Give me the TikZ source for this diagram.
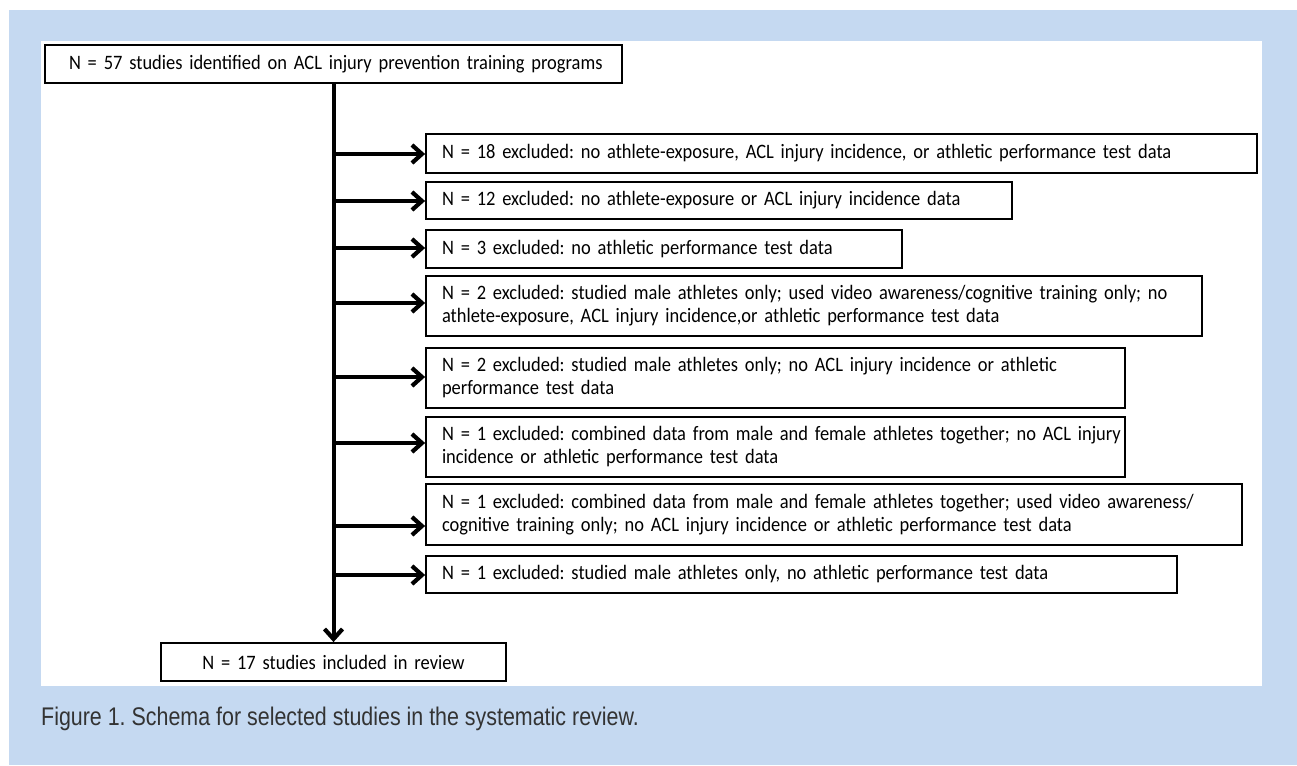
\documentclass[tikz,border=0pt]{standalone}
\usepackage{fontspec}
\setmainfont{Carlito}[FakeStretch=0.9]
\newfontfamily\capfont[FakeStretch=0.84]{Liberation Sans}
\usetikzlibrary{arrows.meta}
\definecolor{bgblue}{HTML}{C5D9F1}
\definecolor{capgray}{HTML}{333333}
\begin{document}
\frenchspacing
\begin{tikzpicture}[x=1pt,y=-1pt,
  exbox/.style={draw=black, line width=1.8pt, inner xsep=16pt, inner ysep=0pt,
    align=left, font=\fontsize{20.5}{23}\selectfont},
  conn/.style={line width=4pt, -{Straight Barb[length=10pt,width=18pt,line width=4.2pt]}}]
\useasboundingbox (0,0) rectangle (1297,765);
\fill[white] (0,0) rectangle (1297,765);
\fill[bgblue] (9,10) rectangle (1297,765);
\fill[white] (41,41) rectangle (1262,686);
% top and bottom boxes
\node[exbox, inner xsep=24pt, text width=529pt, minimum height=38pt] (top) at (333.5,64) {\mbox{N = 57 studies identified on ACL injury prevention training programs}};
\node[exbox, align=center, text width=313pt, minimum height=38pt] (bot) at (333.5,662) {N = 17 studies included in review};
% exclusion boxes
\node[exbox, text width=799pt, minimum height=39pt] (b1) at (841.5,153.5) {\mbox{N = 18 excluded: no athlete-exposure, ACL injury incidence, or athletic performance test data}};
\node[exbox, text width=554pt, minimum height=37pt] (b2) at (719,200.5) {\mbox{N = 12 excluded: no athlete-exposure or ACL injury incidence data}};
\node[exbox, text width=444pt, minimum height=38pt] (b3) at (664,249) {\mbox{N = 3 excluded: no athletic performance test data}};
\node[exbox, text width=744pt, minimum height=60pt] (b4) at (814,306) {\mbox{N = 2 excluded: studied male athletes only; used video awareness/cognitive training only; no}\\\mbox{athlete-exposure, ACL injury incidence,or athletic performance test data}};
\node[exbox, text width=667pt, minimum height=60pt] (b5) at (775.5,378) {\mbox{N = 2 excluded: studied male athletes only; no ACL injury incidence or athletic}\\\mbox{performance test data}};
\node[exbox, text width=667pt, minimum height=60pt] (b6) at (775.5,447) {\mbox{N = 1 excluded: combined data from male and female athletes together; no ACL injury}\\\mbox{incidence or athletic performance test data}};
\node[exbox, text width=784pt, minimum height=61pt] (b7) at (834,514.5) {\mbox{N = 1 excluded: combined data from male and female athletes together; used video awareness/}\\\mbox{cognitive training only; no ACL injury incidence or athletic performance test data}};
\node[exbox, text width=719pt, minimum height=37pt] (b8) at (801.5,574.5) {\mbox{N = 1 excluded: studied male athletes only, no athletic performance test data}};
% spine
\draw[conn] (top.south) -- (bot.north);
% branch arrows
\coordinate (a1) at (333.5,154);
\coordinate (a2) at (333.5,201);
\coordinate (a3) at (333.5,248);
\coordinate (a4) at (333.5,303);
\coordinate (a5) at (333.5,377);
\coordinate (a6) at (333.5,443);
\coordinate (a7) at (333.5,526);
\coordinate (a8) at (333.5,575);
\foreach \i in {1,...,8} {\draw[conn] (a\i) -- (a\i -| b\i.west);}
% caption
\node[anchor=base west, inner sep=0pt, font=\capfont\fontsize{25.5}{30}\selectfont, text=capgray] (cap) at (41,725) {Figure 1. Schema for selected studies in the systematic review.};
\end{tikzpicture}
\end{document}
